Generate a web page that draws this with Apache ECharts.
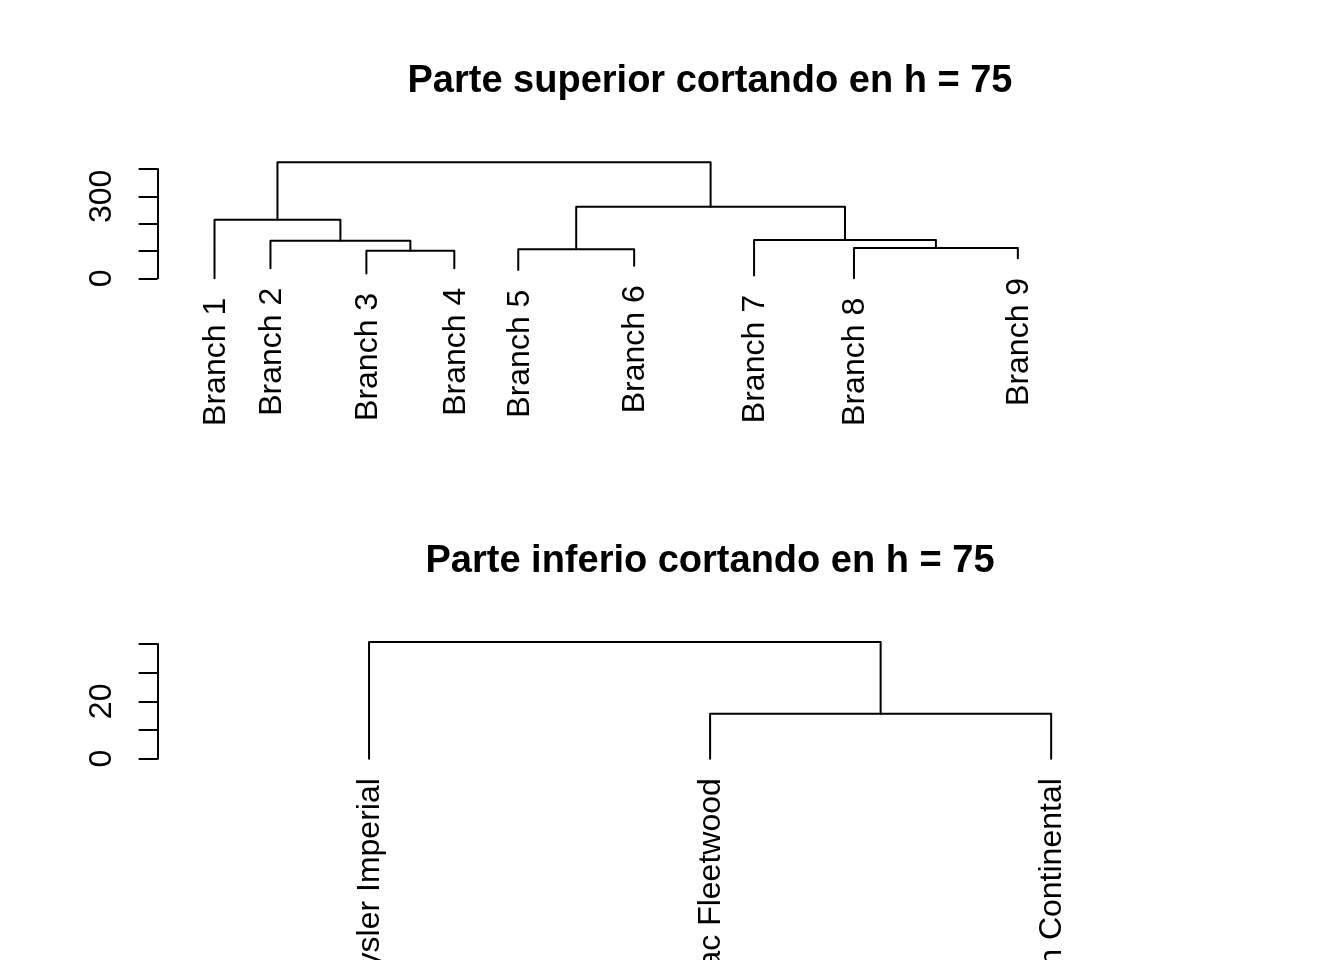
<!DOCTYPE html>
<html><head><meta charset="utf-8">
<script src="https://cdn.jsdelivr.net/npm/echarts@6/dist/echarts.min.js"></script>
<style>html,body{margin:0;padding:0;background:#fff;overflow:hidden}#c{width:1344px;height:960px}</style>
</head><body><div id="c"></div>
<script>
// ---- data ----
const upperTitle = 'Parte superior cortando en h = 75';
const lowerTitle = 'Parte inferio cortando en h = 75';

const upperLabels = ['Branch 1','Branch 2','Branch 3','Branch 4','Branch 5','Branch 6','Branch 7','Branch 8','Branch 9'];
const upperLeafX = [1, 2.75, 5.75, 8.5, 10.5, 14.125, 17.875, 21, 26.125];
const upperLeafH = [0, 37, 18, 37, 30, 46, 10, 0, 73];
const upperMergeA = [-3, -2, -1, -5, -8, -7, 4, 3];
const upperMergeB = [-4, 1, 2, -6, -9, 5, 6, 7];
const upperMergeH = [101, 137, 214, 106, 111, 140, 262, 425];
const upperTicks = [0, 100, 200, 300, 400];
const upperTickLabels = ['0', '', '', '300', ''];

const lowerLabels = ['Chrysler Imperial', 'Cadillac Fleetwood', 'Lincoln Continental'];
const lowerLeafX = [1, 2, 3];
const lowerLeafH = [0, 0, 0];
const lowerMergeA = [-2, -1];
const lowerMergeB = [-3, 1];
const lowerMergeH = [15.7, 40.7];
const lowerTicks = [0, 10, 20, 30, 40];
const lowerTickLabels = ['0', '', '20', '', ''];

// ---- build ----
const FONT = '"Liberation Sans", Arial, sans-serif';
function build(leafX, leafH, A, B, H) {
  const nx = [], segs = [];
  const pos = i => i < 0 ? [leafX[-i - 1], leafH[-i - 1]] : [nx[i - 1], H[i - 1]];
  for (let k = 0; k < H.length; k++) {
    const pa = pos(A[k]), pb = pos(B[k]);
    nx[k] = (pa[0] + pb[0]) / 2;
    segs.push([pa[0], pa[1], pb[0], pb[1], H[k]]);
  }
  return segs;
}
const upperSegs = build(upperLeafX, upperLeafH, upperMergeA, upperMergeB, upperMergeH);
const lowerSegs = build(lowerLeafX, lowerLeafH, lowerMergeA, lowerMergeB, lowerMergeH);

function treeSeries(idx, segs) {
  return {
    type: 'custom', xAxisIndex: idx, yAxisIndex: idx, clip: false, silent: true,
    encode: { x: 0, y: 1 },
    data: segs,
    renderItem: (params, api) => {
      const p1 = api.coord([api.value(0), api.value(1)]);
      const p2 = api.coord([api.value(0), api.value(4)]);
      const p3 = api.coord([api.value(2), api.value(4)]);
      const p4 = api.coord([api.value(2), api.value(3)]);
      return { type: 'polyline', shape: { points: [p1, p2, p3, p4] },
        style: { stroke: '#000', lineWidth: 2, fill: null, lineCap: 'round', lineJoin: 'round' } };
    }
  };
}
function labelSeries(idx, xs, hs, labels) {
  return {
    type: 'custom', xAxisIndex: idx, yAxisIndex: idx, clip: false, silent: true,
    encode: { x: 0, y: 1 },
    data: xs.map((x, i) => [x, hs[i], i]),
    renderItem: (params, api) => {
      const p = api.coord([api.value(0), api.value(1)]);
      return { type: 'text', x: p[0] + 1.5, y: p[1] + 19.5, rotation: Math.PI / 2,
        style: { text: labels[api.value(2)], font: '32px ' + FONT, fill: '#000',
          align: 'right', verticalAlign: 'middle' } };
    }
  };
}
function yAx(idx, max, interval, ticks, tickLabels) {
  return {
    type: 'value', gridIndex: idx, min: 0, max: max, interval: interval,
    axisLine: { show: true, onZero: false, lineStyle: { color: '#000', width: 2 } },
    axisTick: { show: true, length: 19, lineStyle: { color: '#000', width: 2 } },
    splitLine: { show: false },
    axisLabel: { rotate: 90, margin: 39, color: '#000', fontSize: 32, fontFamily: FONT,
      formatter: v => { const i = ticks.indexOf(v); return i >= 0 ? tickLabels[i] : ''; } }
  };
}

const chart = echarts.init(document.getElementById('c'), null, { renderer: 'canvas' });
chart.setOption({
  animation: false,
  backgroundColor: '#fff',
  grid: [
    { left: 157.6, right: 81.4, top: 169, height: 109.3 },
    { left: 157.6, right: 81.4, top: 644, height: 114.7 }
  ],
  xAxis: [
    { type: 'value', gridIndex: 0, min: -0.78, max: 33.78, show: false },
    { type: 'value', gridIndex: 1, min: 0.38, max: 3.62, show: false }
  ],
  yAxis: [
    yAx(0, 400, 100, upperTicks, upperTickLabels),
    yAx(1, 40, 10, lowerTicks, lowerTickLabels)
  ],
  graphic: [
    { type: 'text', x: 710, y: 81.5, style: { text: upperTitle, font: 'bold 38px ' + FONT, fill: '#000', align: 'center', verticalAlign: 'middle' } },
    { type: 'text', x: 710, y: 561.5, style: { text: lowerTitle, font: 'bold 38px ' + FONT, fill: '#000', align: 'center', verticalAlign: 'middle' } }
  ],
  series: [
    treeSeries(0, upperSegs),
    labelSeries(0, upperLeafX, upperLeafH, upperLabels),
    treeSeries(1, lowerSegs),
    labelSeries(1, lowerLeafX, lowerLeafH, lowerLabels)
  ]
});
</script></body></html>
